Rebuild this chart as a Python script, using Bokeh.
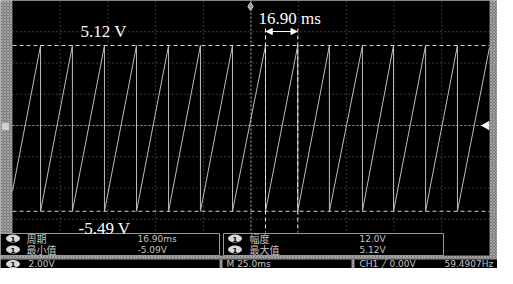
import math
from bokeh.plotting import figure
from bokeh.models import Range1d, Arrow, NormalHead, Label
from bokeh.embed import file_html
from bokeh.resources import INLINE
from bokeh.core.properties import value

# ---------------- data ----------------
time_per_div_ms = 25.0
volts_per_div = 2.0
n_hdiv = 10
n_vdiv = 8
# instants of the sawtooth resets (ms from the left edge of the screen)
reset_ms = [14.7, 31.4, 48.2, 65.0, 81.8, 98.5, 115.3, 132.6, 149.5,
            166.1, 183.4, 199.7, 216.5, 233.2]
v_max = 5.12
v_min = -5.49
start_v = -4.2
end_v = 5.0
cursor_t = [132.6, 149.5]
cursor_v = [5.12, -5.49]
period_label = "16.90 ms"
vmax_label = "5.12 V"
vmin_label = "-5.49 V"
meas_left_names = ["周期", "最小值"]
meas_left_vals = ["16.90ms", "-5.09V"]
meas_right_names = ["幅度", "最大值"]
meas_right_vals = ["12.0V", "5.12V"]
status_texts = ["2.00V", "M 25.0ms", "CH1 ╱ 0.00V", "59.4907Hz"]

# ---------------- layout helpers (page pixels -> data) ----------------
W, H = 497, 268
SX0, SX1 = 20, 497
SY0, SY1 = 8, 258
t_span = time_per_div_ms * n_hdiv
v_half = volts_per_div * n_vdiv / 2


def X(px):
    return (px - SX0) * t_span / (SX1 - SX0)


def Y(py):
    return v_half - (py - SY0) * (2 * v_half) / (SY1 - SY0)


p = figure(width=W, height=H, x_range=Range1d(X(8), X(505)),
           y_range=Range1d(Y(276), Y(8)), min_border=0,
           toolbar_location=None, output_backend="svg")
p.axis.visible = False
p.grid.visible = False
p.outline_line_color = None
p.background_fill_color = "#848484"
p.border_fill_color = "white"

TEX = dict(fill_color="#7a7a7a", line_color=None, hatch_pattern="diagonal_cross",
           hatch_color="#b4b4b4", hatch_scale=3, hatch_weight=0.7)

# textured bezel
p.quad(left=X(8), right=X(505), bottom=Y(276), top=Y(8), **TEX)

# black screen
p.quad(left=X(SX0), right=X(SX1), top=Y(8), bottom=Y(263),
       fill_color="black", line_color=None)

# graticule
gx = [time_per_div_ms * k for k in range(1, n_hdiv)]
gy = [volts_per_div * k for k in range(-n_vdiv // 2 + 1, n_vdiv // 2)]
p.multi_line(xs=[[x, x] for x in gx], ys=[[-v_half, v_half]] * len(gx),
             line_color="#707070", line_width=1, line_dash="1 3")
p.multi_line(xs=[[0, t_span]] * len(gy), ys=[[y, y] for y in gy],
             line_color="#707070", line_width=1, line_dash="1 3")
p.segment(x0=[t_span / 2, 0], y0=[-v_half, 0], x1=[t_span / 2, t_span], y1=[v_half, 0],
          line_color="#9a9a9a", line_width=1, line_dash="2 2")

# waveform
wave_t = [0.0]
wave_v = [start_v]
for t in reset_ms:
    wave_t += [t, t]
    wave_v += [v_max, v_min]
wave_t.append(t_span)
wave_v.append(end_v)
p.line(wave_t, wave_v, line_color="#bcbcbc", line_width=1)

# cursors
p.segment(x0=[0] * 2, x1=[t_span] * 2, y0=cursor_v, y1=cursor_v,
          line_color="#d0d0d0", line_width=1, line_dash="4 3")
p.segment(x0=cursor_t, x1=cursor_t, y0=[Y(36)] * 2, y1=[Y(240)] * 2,
          line_color="#e8e8e8", line_width=1, line_dash="4 3")
p.add_layout(Arrow(x_start=cursor_t[0] + 0.4, x_end=cursor_t[1] - 0.4,
                   y_start=Y(39), y_end=Y(39), line_color="white", line_width=1,
                   start=NormalHead(size=6, fill_color="white", line_color="white"),
                   end=NormalHead(size=6, fill_color="white", line_color="white")))

for txt, px, py in [(period_label, 266, 26), (vmax_label, 88, 39), (vmin_label, 86, 236)]:
    p.add_layout(Label(x=X(px), y=Y(py), text=txt, text_font="Liberation Serif",
                       text_font_size="17px", text_color="white",
                       text_baseline="middle", text_align="left"))

# markers on the screen edges
p.scatter(x=[X(258)], y=[Y(14)], marker="diamond", size=8, fill_color="#a0a0a0",
          line_color="#d0d0d0")
p.scatter(x=[X(494)], y=[Y(133)], marker="triangle", angle=math.pi / 2, size=8,
          fill_color="white", line_color="white")
p.scatter(x=[X(13)], y=[Y(134)], marker="square", size=7, fill_color="#d0d0d0",
          line_color=None)

# measurement boxes
p.quad(left=[X(8), X(231)], right=[X(227), X(451)], top=[Y(241)] * 2, bottom=[Y(263)] * 2,
       fill_color="black", line_color="#9a9a9a", line_width=1)
# bottom status row
p.quad(left=X(8), right=X(505), top=Y(267), bottom=Y(276), fill_color="black", line_color=None)
p.quad(left=[X(227), X(359)], right=[X(230), X(362)], top=[Y(267)] * 2, bottom=[Y(276)] * 2, **TEX)

# badges
bx = [20.5, 20.5, 242.5, 242.5, 20.5]
by = [246, 257, 246, 257, 271.5]
p.ellipse(x=[X(v) for v in bx], y=[Y(v) for v in by], width=14, height=8,
          width_units="screen", height_units="screen", fill_color="#d8d8d8", line_color=None)
p.text(x=[X(v) for v in bx], y=[Y(v) for v in by], text=["1"] * len(bx),
       text_font=value("DejaVu Sans"), text_font_size="7px", text_font_style="bold",
       text_color="black", text_align="center", text_baseline="middle")

CJK = value("Noto Sans CJK SC")
p.text(x=[X(34)] * 2 + [X(257)] * 2, y=[Y(246), Y(257)] * 2,
       text=meas_left_names + meas_right_names, text_font=CJK, text_font_size="10px",
       text_color="#c4c4c4", text_baseline="middle")
p.text(x=[X(145)] * 2 + [X(367)] * 2, y=[Y(246), Y(257)] * 2,
       text=meas_left_vals + meas_right_vals, text_font=value("DejaVu Sans"),
       text_font_size="9px", text_color="#c4c4c4", text_baseline="middle")
p.text(x=[X(36), X(234), X(367), X(452)], y=[Y(271.5)] * 4, text=status_texts,
       text_font=value("DejaVu Sans"), text_font_size="9px", text_color="#c4c4c4",
       text_baseline="middle")

open("out.html", "w").write(file_html(p, INLINE))
